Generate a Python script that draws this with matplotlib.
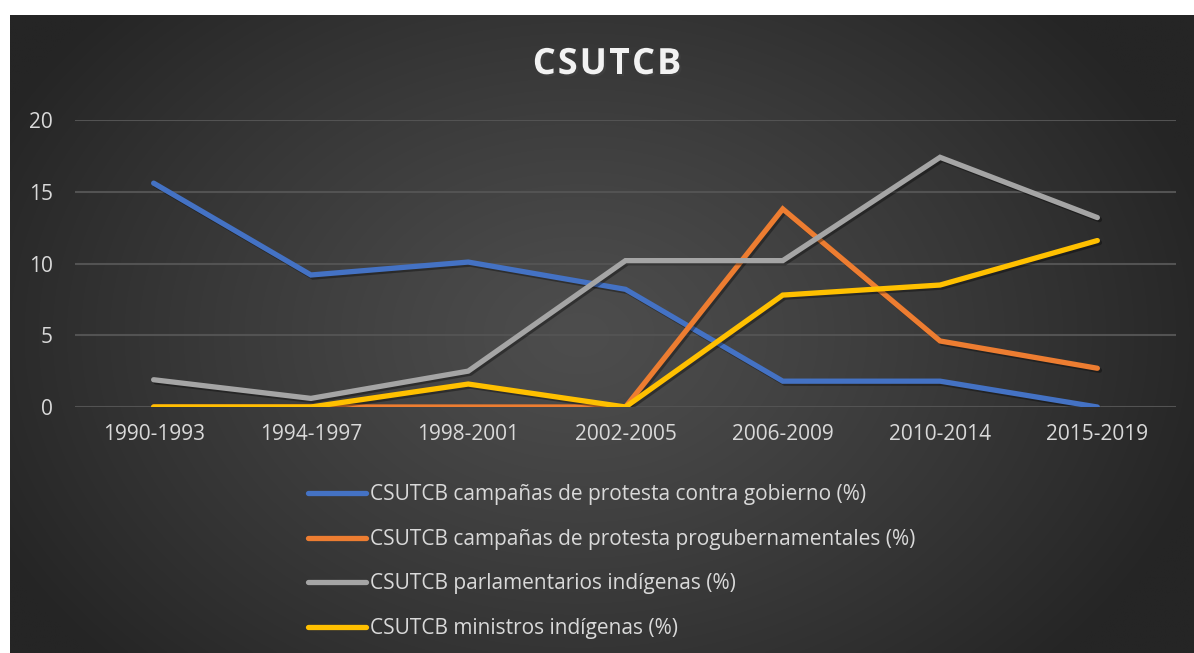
import numpy as np
import matplotlib
matplotlib.use("Agg")
import matplotlib.pyplot as plt
import matplotlib.patheffects as pe

categories = ["1990-1993", "1994-1997", "1998-2001", "2002-2005", "2006-2009", "2010-2014", "2015-2019"]
contra_gobierno = [15.6, 9.2, 10.1, 8.2, 1.8, 1.8, 0.0]
progubernamentales = [0.0, 0.0, 0.0, 0.0, 13.8, 4.6, 2.7]
parlamentarios = [1.9, 0.6, 2.5, 10.2, 10.2, 17.4, 13.2]
ministros = [0.0, 0.0, 1.6, 0.0, 7.8, 8.5, 11.6]

series_labels = [
    "CSUTCB campañas de protesta contra gobierno (%)",
    "CSUTCB campañas de protesta progubernamentales (%)",
    "CSUTCB parlamentarios indígenas (%)",
    "CSUTCB ministros indígenas (%)",
]
series_colors = ["#4472C4", "#ED7D31", "#A5A5A5", "#FFC000"]
yticks = [0, 5, 10, 15, 20]
title = "CSUTCB"

plt.rcParams['font.family'] = ['Open Sans', 'DejaVu Sans']

W, H = 1194, 653
fig = plt.figure(figsize=(W / 100, H / 100), dpi=100)
fig.patch.set_facecolor("white")

# background gradient panel
bg = fig.add_axes([10 / W, 0, (W - 10) / W, (H - 15) / H])
bg.set_axis_off()
ny, nx = 300, 560
yy, xx = np.mgrid[0:ny, 0:nx]
cx, cy = nx * 0.48, ny * 0.50
r = np.sqrt(((xx - cx) / (nx * 0.55)) ** 2 + ((yy - cy) / (ny * 0.75)) ** 2)
r = np.clip(r, 0, 1)
c_in, c_out = 0x4d / 255, 0x25 / 255
val = c_out + (c_in - c_out) * (1 - r ** 1.2)
img = np.dstack([val, val, val])
bg.imshow(img, aspect="auto", extent=[0, 1, 0, 1], interpolation="bilinear")
bg.set_xlim(0, 1)
bg.set_ylim(0, 1)

# main axes
left, right = 75 / W, 1176 / W
bottom, top = (H - 407) / H, (H - 120) / H
ax = fig.add_axes([left, bottom, right - left, top - bottom])
ax.patch.set_alpha(0)
x = np.arange(len(categories))
all_series = [contra_gobierno, progubernamentales, parlamentarios, ministros]
handles = []
for vals, col, lab in zip(all_series, series_colors, series_labels):
    ln, = ax.plot(x, vals, color=col, lw=3.8, solid_capstyle="round", solid_joinstyle="miter",
                  label=lab, zorder=3,
                  path_effects=[pe.SimpleLineShadow(offset=(1.5, -1.5), alpha=0.35, shadow_color="black"),
                                pe.Normal()])
    handles.append(ln)

ax.set_xlim(-0.5, len(categories) - 0.5)
ax.set_ylim(0, 20)
ax.set_yticks(yticks)
ax.set_xticks(x)
ax.set_xticklabels(categories)
ax.grid(axis="y", color="#535353", lw=1.5, zorder=0)
ax.set_axisbelow(True)
for s in ax.spines.values():
    s.set_visible(False)
ax.tick_params(axis="both", length=0, colors="#d9d9d9", labelsize=15)
ax.tick_params(axis="y", pad=16)
ax.tick_params(axis="x", pad=12)

# title with slight letter spacing: place letters individually
renderer = fig.canvas.get_renderer()
fs = 26
spacing = 2.0  # extra px between letters
widths = []
for ch in title:
    t = fig.text(0, 0, ch, fontsize=fs, fontweight="bold")
    widths.append(t.get_window_extent(renderer).width)
    t.remove()
total = sum(widths) + spacing * (len(title) - 1)
xpos = 607 - total / 2
for ch, w in zip(title, widths):
    fig.text(xpos / W, 1 - 65 / H, ch, ha="left", va="center", fontsize=fs,
             fontweight="bold", color="#f2f2f2",
             path_effects=[pe.withSimplePatchShadow(offset=(1.5, -1.5), alpha=0.4)])
    xpos += w + spacing

leg = fig.legend(handles=handles, labels=series_labels, loc="upper left",
                 bbox_to_anchor=(300 / W, 1 - 476 / H), frameon=False, ncol=1,
                 fontsize=15, labelcolor="#d9d9d9", handlelength=2.75,
                 handletextpad=0.2, labelspacing=1.13, borderaxespad=0)
for lh in leg.get_lines():
    lh.set_path_effects([pe.Normal()])

fig.savefig("out.png", dpi=100, facecolor="white")
